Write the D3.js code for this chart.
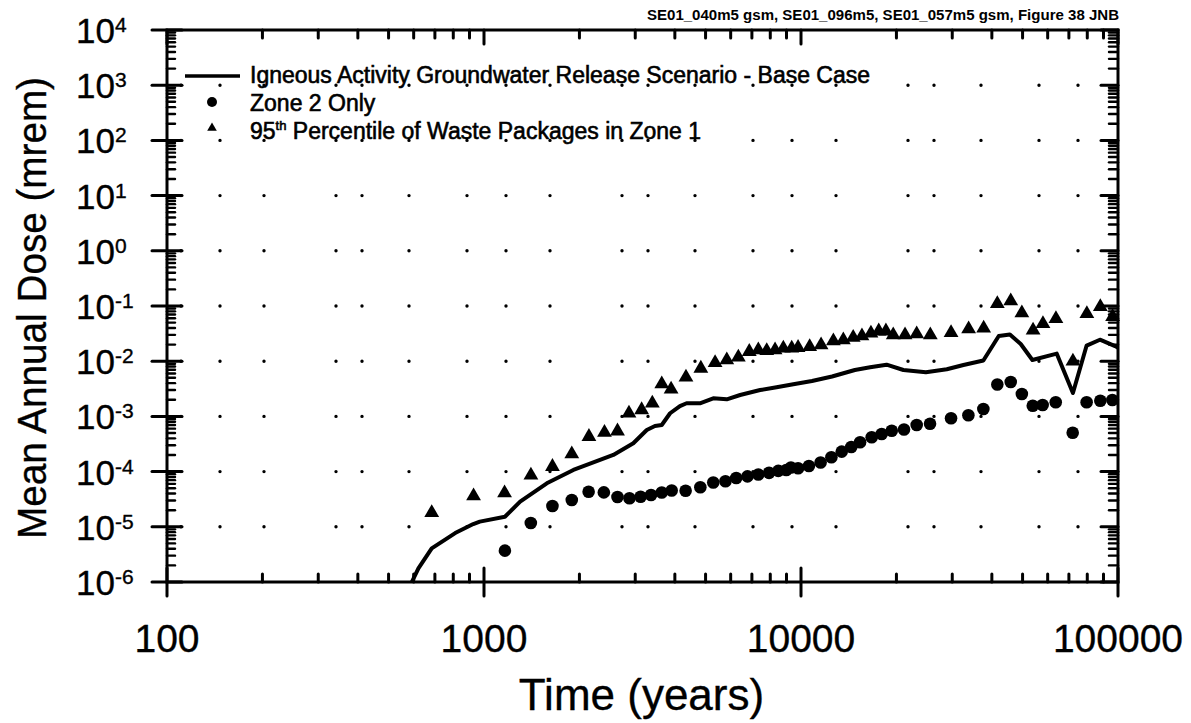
<!DOCTYPE html>
<html>
<head>
<meta charset="utf-8">
<script src="https://cdn.jsdelivr.net/npm/d3@7/dist/d3.min.js"></script>
<style>
  html, body { margin: 0; padding: 0; background: #fff; }
  svg { display: block; }
  text { font-family: "Liberation Sans", Arial, Helvetica, sans-serif; fill: #000; }
  .heavy { stroke: #000; stroke-width: 0.6px; }
  .medium { stroke: #000; stroke-width: 0.35px; }
</style>
</head>
<body>
<svg id="chart" width="1191" height="723"></svg>
<script>
// ---- Data -------------------------------------------------------------
// Base case: igneous activity groundwater release scenario (mean annual dose, mrem)
const baseTime = [592, 621, 684, 811, 925, 970, 1164, 1300, 1578, 1914, 2558, 2958, 3262, 3461,
  3637, 3864, 4150, 4355, 4798, 5287, 5833, 6427, 7431, 8375, 9456, 10830, 12530, 14790, 16520,
  18620, 21040, 24770, 28840, 32540, 37610, 42060, 45600, 49330, 53700, 64100, 72080, 79620,
  87700, 97900, 100000];
const baseDose = [1.0e-6, 1.77e-6, 4.07e-6, 7.7e-6, 1.12e-5, 1.24e-5, 1.52e-5, 2.85e-5, 6.14e-5,
  1.07e-4, 2.0e-4, 3.26e-4, 5.68e-4, 6.7e-4, 6.98e-4, 1.14e-3, 1.54e-3, 1.73e-3, 1.73e-3, 2.13e-3,
  2.04e-3, 2.44e-3, 3.0e-3, 3.37e-3, 3.82e-3, 4.38e-3, 5.28e-3, 6.93e-3, 7.76e-3, 8.65e-3,
  6.93e-3, 6.3e-3, 7.13e-3, 8.53e-3, 1.03e-2, 2.86e-2, 3.05e-2, 2.05e-2, 1.05e-2, 1.37e-2,
  2.65e-3, 1.92e-2, 2.45e-2, 1.88e-2, 1.76e-2];

// Zone 2 only
const zone2Time = [1164, 1405, 1644, 1892, 2138, 2388, 2637, 2877, 3119, 3365, 3637, 3909, 4325,
  4813, 5287, 5777, 6247, 6779, 7334, 7929, 8480, 8986, 9296, 9789, 10590, 11530, 12470, 13440,
  14410, 15360, 16710, 17970, 19330, 21130, 23170, 25530, 29740, 33730, 37610, 41620, 45880,
  49740, 53840, 57840, 63620, 71950, 79620, 87950, 95980];
const zone2Dose = [3.7e-6, 1.17e-5, 2.38e-5, 3.06e-5, 4.32e-5, 4.2e-5, 3.47e-5, 3.3e-5, 3.5e-5,
  3.77e-5, 4.18e-5, 4.56e-5, 4.5e-5, 5.2e-5, 6.35e-5, 6.7e-5, 7.66e-5, 8.2e-5, 8.85e-5, 9.5e-5,
  1.03e-4, 1.07e-4, 1.19e-4, 1.15e-4, 1.26e-4, 1.46e-4, 1.82e-4, 2.3e-4, 2.79e-4, 3.41e-4,
  4.18e-4, 4.8e-4, 5.5e-4, 5.8e-4, 6.98e-4, 7.38e-4, 9.25e-4, 1.05e-3, 1.36e-3, 3.79e-3,
  4.2e-3, 2.55e-3, 1.56e-3, 1.61e-3, 1.8e-3, 5.07e-4, 1.8e-3, 1.92e-3, 1.98e-3];

// 95th percentile of waste packages in Zone 1
const p95Time = [684, 927, 1161, 1406, 1644, 1892, 2143, 2399, 2637, 2866, 3142, 3396, 3637,
  3892, 4336, 4831, 5358, 5833, 6344, 6868, 7334, 7797, 8283, 8796, 9349, 9789, 10650, 11570,
  12650, 13600, 14610, 15570, 16620, 17590, 18530, 19540, 21290, 23170, 25580, 29740, 33790,
  37690, 41620, 45880, 49740, 53960, 57980, 63710, 72080, 79760, 87950, 96150];
const p95Dose = [1.8e-5, 3.6e-5, 4.1e-5, 8.6e-5, 1.23e-4, 2.08e-4, 4.3e-4, 5.1e-4, 5.4e-4,
  1.14e-3, 1.31e-3, 1.73e-3, 3.87e-3, 3.1e-3, 5.1e-3, 7.4e-3, 9.4e-3, 1.05e-2, 1.18e-2, 1.49e-2,
  1.6e-2, 1.55e-2, 1.6e-2, 1.71e-2, 1.71e-2, 1.76e-2, 1.83e-2, 1.96e-2, 2.32e-2, 2.42e-2,
  2.69e-2, 2.86e-2, 3.2e-2, 3.5e-2, 3.5e-2, 2.99e-2, 2.99e-2, 3.11e-2, 2.99e-2, 3.28e-2,
  3.83e-2, 3.94e-2, 0.110, 0.123, 7.46e-2, 3.63e-2, 4.78e-2, 5.89e-2, 1.0e-2, 7.23e-2,
  9.7e-2, 6.4e-2];

// Axis ticks and labels
const xTickValues = [100, 1000, 10000, 100000];
const xTickLabels = ["100", "1000", "10000", "100000"];
const yTickExponents = [4, 3, 2, 1, 0, -1, -2, -3, -4, -5, -6];
const legendLabels = [
  "Igneous Activity Groundwater Release Scenario - Base Case",
  "Zone 2 Only",
  "95th Percentile of Waste Packages in Zone 1"
];
const captionText = "SE01_040m5 gsm, SE01_096m5, SE01_057m5 gsm, Figure 38 JNB";
const xTitle = "Time (years)";
const yTitle = "Mean Annual Dose (mrem)";

// ---- Layout -----------------------------------------------------------
const W = 1191, H = 723;
const margin = { top: 30, right: 73, bottom: 141, left: 167 };
const x0 = margin.left, x1 = W - margin.right;
const y0 = margin.top, y1 = H - margin.bottom;

const svg = d3.select("#chart");
const x = d3.scaleLog().domain([100, 100000]).range([x0, x1]);
const y = d3.scaleLog().domain([1e-6, 1e4]).range([y1, y0]);

// minor tick values (2..9 in every decade)
const minorX = [];
for (let d = 100; d < 100000; d *= 10) for (let k = 2; k <= 9; k++) minorX.push(d * k);
const minorY = [];
for (let e = -6; e < 4; e++) for (let k = 2; k <= 9; k++) minorY.push(k * Math.pow(10, e));

// ---- Dotted decade grid ----------------------------------------------
const gridG = svg.append("g");
gridG.selectAll("line")
  .data(yTickExponents.filter(e => e > -6 && e < 4))
  .join("line")
  .attr("x1", x0 + 14).attr("x2", x1 - 8)
  .attr("y1", e => y(Math.pow(10, e))).attr("y2", e => y(Math.pow(10, e)))
  .attr("stroke", "#000").attr("stroke-width", 3.4)
  .attr("stroke-linecap", "round")
  .attr("stroke-dasharray", "0 39 0 44 0 72 0 26 0 47 0 58");

// ---- Frame and ticks --------------------------------------------------
const axisG = svg.append("g").attr("stroke", "#000").attr("stroke-linecap", "round");
// frame
axisG.append("rect").attr("x", x0).attr("y", y0).attr("width", x1 - x0).attr("height", y1 - y0)
  .attr("fill", "none").attr("stroke-width", 3);

// bottom / top major ticks
axisG.selectAll(".xmajB").data(xTickValues).join("line")
  .attr("x1", d => x(d)).attr("x2", d => x(d)).attr("y1", y1 - 14).attr("y2", y1 + 14)
  .attr("stroke-width", 3);
axisG.selectAll(".xmajT").data(xTickValues).join("line")
  .attr("x1", d => x(d)).attr("x2", d => x(d)).attr("y1", y0).attr("y2", y0 + 14)
  .attr("stroke-width", 3);
// bottom / top minor ticks
axisG.selectAll(".xminB").data(minorX).join("line")
  .attr("x1", d => x(d)).attr("x2", d => x(d)).attr("y1", y1).attr("y2", y1 - 8)
  .attr("stroke-width", 3);
axisG.selectAll(".xminT").data(minorX).join("line")
  .attr("x1", d => x(d)).attr("x2", d => x(d)).attr("y1", y0).attr("y2", y0 + 8)
  .attr("stroke-width", 3);

// left / right major ticks
axisG.selectAll(".ymajL").data(yTickExponents).join("line")
  .attr("y1", e => y(Math.pow(10, e))).attr("y2", e => y(Math.pow(10, e)))
  .attr("x1", x0 - 15).attr("x2", x0 + 15).attr("stroke-width", 3);
axisG.selectAll(".ymajR").data(yTickExponents).join("line")
  .attr("y1", e => y(Math.pow(10, e))).attr("y2", e => y(Math.pow(10, e)))
  .attr("x1", x1 - 17).attr("x2", x1).attr("stroke-width", 3);
// left / right minor ticks
axisG.selectAll(".yminL").data(minorY).join("line")
  .attr("y1", d => y(d)).attr("y2", d => y(d))
  .attr("x1", x0).attr("x2", x0 + 8).attr("stroke-width", 2.4);
axisG.selectAll(".yminR").data(minorY).join("line")
  .attr("y1", d => y(d)).attr("y2", d => y(d))
  .attr("x1", x1).attr("x2", x1 - 9).attr("stroke-width", 2.4);

// ---- Tick labels ------------------------------------------------------
svg.append("g").selectAll("text").data(xTickValues).join("text")
  .attr("class", "medium")
  .attr("x", d => x(d)).attr("y", y1 + 70)
  .attr("text-anchor", "middle").attr("font-size", 39)
  .text((d, i) => xTickLabels[i]);

const yl = svg.append("g").selectAll("text").data(yTickExponents).join("text")
  .attr("class", "medium")
  .attr("x", 76).attr("y", e => y(Math.pow(10, e)) + 13)
  .attr("font-size", 35);
yl.append("tspan").text("10");
yl.append("tspan").attr("font-size", 21).attr("dy", -11).text(e => String(e));

// ---- Axis titles ------------------------------------------------------
svg.append("text").attr("class", "medium")
  .attr("x", (x0 + x1) / 2 - 1).attr("y", 710)
  .attr("text-anchor", "middle").attr("font-size", 44).text(xTitle);
svg.append("text").attr("class", "medium")
  .attr("transform", `translate(46, ${(y0 + y1) / 2 + 2}) rotate(-90)`)
  .attr("text-anchor", "middle").attr("font-size", 41)
  .attr("textLength", 462).attr("lengthAdjust", "spacingAndGlyphs")
  .text(yTitle);

// caption
svg.append("text").attr("x", 647).attr("y", 20).attr("font-size", 14).attr("font-weight", "bold")
  .attr("textLength", 472).attr("lengthAdjust", "spacingAndGlyphs").text(captionText);

// ---- Series -----------------------------------------------------------
svg.append("clipPath").attr("id", "plotClip").append("rect")
  .attr("x", x0).attr("y", y0).attr("width", x1 - x0).attr("height", y1 - y0);

const baseData = baseTime.map((t, i) => [t, baseDose[i]]);
svg.append("path").datum(baseData)
  .attr("clip-path", "url(#plotClip)")
  .attr("fill", "none").attr("stroke", "#000").attr("stroke-width", 4)
  .attr("stroke-linejoin", "round")
  .attr("d", d3.line().x(d => x(d[0])).y(d => y(d[1])));

svg.append("g").selectAll("circle").data(zone2Time.map((t, i) => [t, zone2Dose[i]])).join("circle")
  .attr("cx", d => x(d[0])).attr("cy", d => y(d[1])).attr("r", 6.3).attr("fill", "#000");

const tri = d3.symbol().type(d3.symbolTriangle).size(95);
svg.append("g").selectAll("path").data(p95Time.map((t, i) => [t, p95Dose[i]])).join("path")
  .attr("transform", d => `translate(${x(d[0])},${y(d[1])})`)
  .attr("d", tri).attr("fill", "#000");

// ---- Legend -----------------------------------------------------------
const lg = svg.append("g");
lg.append("line").attr("x1", 185).attr("x2", 240).attr("y1", 76).attr("y2", 76)
  .attr("stroke", "#000").attr("stroke-width", 3.5);
lg.append("circle").attr("cx", 212).attr("cy", 102).attr("r", 5).attr("fill", "#000");
lg.append("path").attr("transform", "translate(212,128)")
  .attr("d", d3.symbol().type(d3.symbolTriangle).size(40)).attr("fill", "#000");

const legendY = [83, 111, 139];
lg.append("text").attr("class", "heavy").attr("x", 250).attr("y", legendY[0]).attr("font-size", 23).text(legendLabels[0]);
lg.append("text").attr("class", "heavy").attr("x", 250).attr("y", legendY[1]).attr("font-size", 23).text(legendLabels[1]);
const t3 = lg.append("text").attr("class", "heavy").attr("x", 250).attr("y", legendY[2]).attr("font-size", 23);
const m3 = legendLabels[2].match(/^(\d+)(th)(.*)$/);
t3.append("tspan").text(m3[1]);
t3.append("tspan").attr("font-size", 13).attr("dy", -9).text(m3[2]);
t3.append("tspan").attr("dy", 9).text(m3[3]);
</script>
</body>
</html>
